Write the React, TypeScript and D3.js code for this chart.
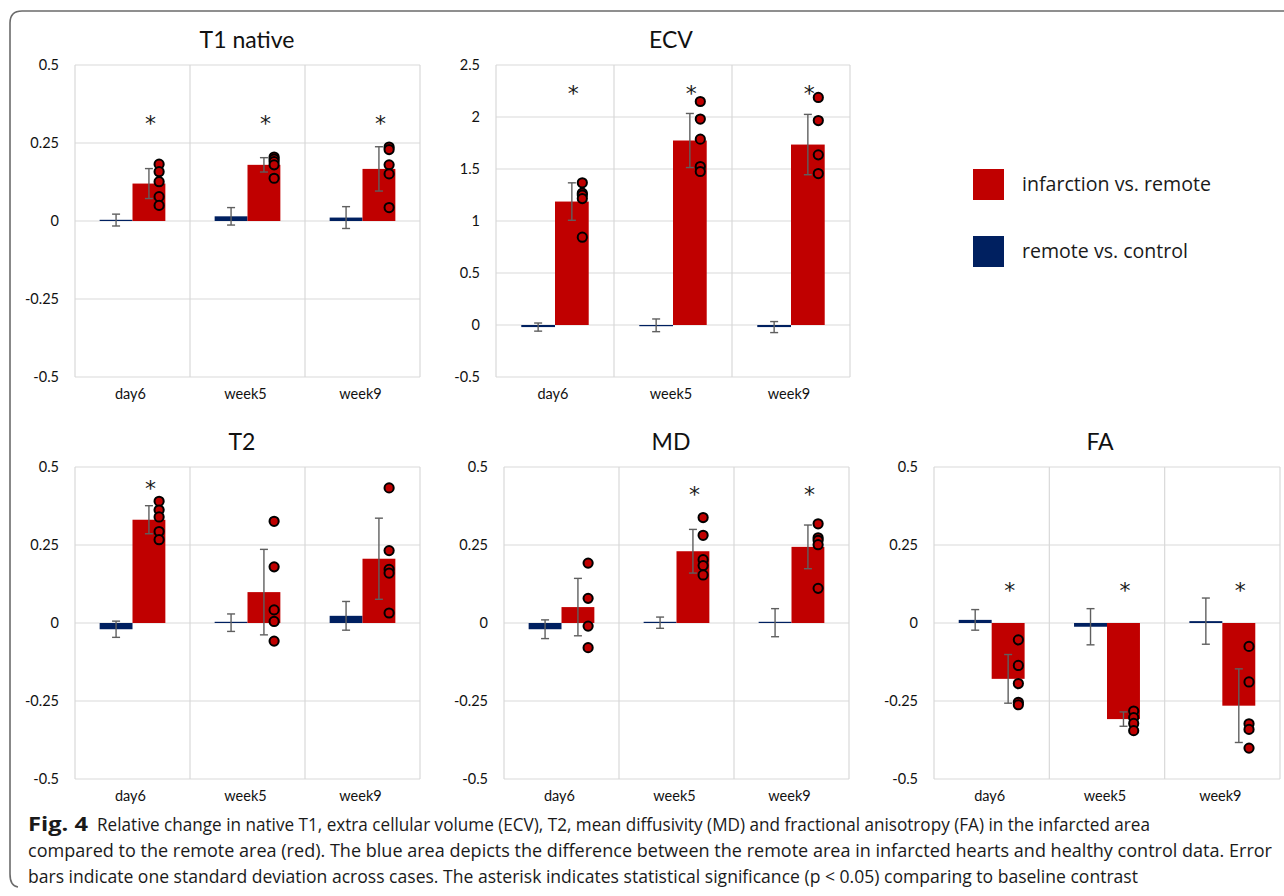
import React from "react";
import * as d3 from "d3";

// ---------- data ----------
const categories = ["day6", "week5", "week9"];
const seriesNames = ["infarction vs. remote", "remote vs. control"];

// T1 native
const t1Remote = [0.003, 0.015, 0.011];
const t1RemoteSd = [0.019, 0.028, 0.035];
const t1Infarct = [0.12, 0.18, 0.167];
const t1InfarctSd = [0.048, 0.023, 0.071];
const t1Dots = [
  [0.182, 0.158, 0.126, 0.078, 0.05],
  [0.205, 0.198, 0.19, 0.18, 0.137],
  [0.237, 0.229, 0.18, 0.151, 0.043],
];
const t1Sig = [true, true, true];

// ECV
const ecvRemote = [-0.02, -0.003, -0.02];
const ecvRemoteSd = [0.039, 0.061, 0.053];
const ecvInfarct = [1.187, 1.774, 1.735];
const ecvInfarctSd = [0.18, 0.26, 0.29];
const ecvDots = [
  [1.367, 1.268, 1.25, 1.216, 0.844],
  [2.149, 1.98, 1.787, 1.524, 1.476],
  [2.188, 1.966, 1.636, 1.456],
];
const ecvSig = [true, true, true];

// T2
const t2Remote = [-0.02, 0.001, 0.023];
const t2RemoteSd = [0.026, 0.028, 0.046];
const t2Infarct = [0.331, 0.099, 0.206];
const t2InfarctSd = [0.045, 0.137, 0.13];
const t2Dots = [
  [0.39, 0.362, 0.34, 0.293, 0.267],
  [0.326, 0.18, 0.042, 0.005, -0.058],
  [0.433, 0.232, 0.172, 0.16, 0.032],
];
const t2Sig = [true, false, false];

// MD
const mdRemote = [-0.02, 0.001, 0.001];
const mdRemoteSd = [0.03, 0.018, 0.045];
const mdInfarct = [0.051, 0.23, 0.244];
const mdInfarctSd = [0.092, 0.07, 0.07];
const mdDots = [
  [0.192, 0.079, -0.01, -0.079],
  [0.338, 0.281, 0.203, 0.184, 0.154],
  [0.318, 0.273, 0.265, 0.251, 0.111],
];
const mdSig = [false, true, true];

// FA
const faRemote = [0.01, -0.012, 0.006];
const faRemoteSd = [0.033, 0.058, 0.074];
const faInfarct = [-0.179, -0.308, -0.265];
const faInfarctSd = [0.078, 0.023, 0.118];
const faDots = [
  [-0.054, -0.136, -0.194, -0.254, -0.262],
  [-0.282, -0.303, -0.322, -0.345],
  [-0.075, -0.189, -0.323, -0.341, -0.401],
];
const faSig = [true, true, true];

const ticksHalf = [-0.5, -0.25, 0, 0.25, 0.5];
const ticksEcv = [-0.5, 0, 0.5, 1, 1.5, 2, 2.5];

const captionBold = "Fig. 4";
const captionLines = [
  "Relative change in native T1, extra cellular volume (ECV), T2, mean diffusivity (MD) and fractional anisotropy (FA) in the infarcted area",
  "compared to the remote area (red). The blue area depicts the difference between the remote area in infarcted hearts and healthy control data. Error",
  "bars indicate one standard deviation across cases. The asterisk indicates statistical significance (p < 0.05) comparing to baseline contrast",
];

// ---------- style ----------
const RED = "#C00000";
const BLUE = "#002060";
const GRID = "#d9d9d9";
const ERR = "#5f5f5f";
const CHART_FONT = "Lato, 'Open Sans', sans-serif";
const TEXT_FONT = "'Open Sans', 'Noto Sans', sans-serif";

type PanelProps = {
  title: string;
  titleX: number;
  titleY: number;
  x0: number;
  x1: number;
  y0: number;
  y1: number;
  domain: [number, number];
  ticks: number[];
  remote: number[];
  remoteSd: number[];
  infarct: number[];
  infarctSd: number[];
  dots: number[][];
  sig: boolean[];
  starLevel: number;
};

function Panel(p: PanelProps) {
  const y = d3.scaleLinear().domain(p.domain).range([p.y1, p.y0]);
  const x = d3.scaleBand<string>().domain(categories).range([p.x0, p.x1]).paddingInner(0).paddingOuter(0);
  const inner = d3
    .scaleBand<string>()
    .domain(["remote", "infarct"])
    .range([0, x.bandwidth()])
    .paddingInner(0)
    .paddingOuter(0.75);
  const bw = inner.bandwidth();
  const zero = y(0);
  const barRect = (v: number) => {
    const yy = y(v);
    const h = Math.max(Math.abs(yy - zero), 1.2);
    const top = v < 0 ? zero : zero - h;
    return { top, h };
  };
  const cap = 4;
  const errBar = (cx: number, m: number, sd: number, key: string) => (
    <g key={key} stroke={ERR} strokeWidth={1.4} fill="none">
      <line x1={cx} x2={cx} y1={y(m + sd)} y2={y(m - sd)} />
      <line x1={cx - cap} x2={cx + cap} y1={y(m + sd)} y2={y(m + sd)} />
      <line x1={cx - cap} x2={cx + cap} y1={y(m - sd)} y2={y(m - sd)} />
    </g>
  );
  return (
    <g>
      <text x={p.titleX} y={p.titleY} textAnchor="middle" fontFamily={CHART_FONT} fontSize={23} fill="#111">
        {p.title}
      </text>
      {p.ticks.map((t) => (
        <line key={"g" + t} x1={p.x0} x2={p.x1} y1={y(t)} y2={y(t)} stroke={GRID} strokeWidth={1.2} />
      ))}
      {categories.map((c) => (
        <line key={"v" + c} x1={x(c)!} x2={x(c)!} y1={p.y0} y2={p.y1} stroke={GRID} strokeWidth={1.2} />
      ))}
      <line x1={p.x1} x2={p.x1} y1={p.y0} y2={p.y1} stroke={GRID} strokeWidth={1.2} />
      {p.ticks.map((t) => (
        <text key={"t" + t} x={p.x0 - 16} y={y(t) + 5} textAnchor="end" fontFamily={CHART_FONT} fontSize={14.5} fill="#111">
          {String(t)}
        </text>
      ))}
      {categories.map((c) => (
        <text key={"c" + c} x={x(c)! + x.bandwidth() / 2 - 2} y={p.y1 + 22} textAnchor="middle" fontFamily={CHART_FONT} fontSize={14.5} fill="#111">
          {c}
        </text>
      ))}
      {categories.map((c, i) => {
        const r = barRect(p.remote[i]);
        const f = barRect(p.infarct[i]);
        return (
          <g key={"b" + c}>
            <rect x={x(c)! + inner("remote")!} y={r.top} width={bw} height={r.h} fill={BLUE} />
            <rect x={x(c)! + inner("infarct")!} y={f.top} width={bw} height={f.h} fill={RED} />
          </g>
        );
      })}
      {categories.map((c, i) => (
        <g key={"e" + c}>
          {errBar(x(c)! + inner("remote")! + bw / 2, p.remote[i], p.remoteSd[i], "er")}
          {errBar(x(c)! + inner("infarct")! + bw / 2, p.infarct[i], p.infarctSd[i], "ei")}
        </g>
      ))}
      {categories.map((c, i) =>
        p.dots[i].map((v, j) => (
          <circle
            key={"d" + c + j}
            cx={x(c)! + inner("infarct")! + bw / 2 + bw * 0.31}
            cy={y(v)}
            r={4.6}
            fill={RED}
            stroke="#000"
            strokeWidth={2}
          />
        ))
      )}
      {categories.map((c, i) =>
        p.sig[i] ? (
          <text
            key={"s" + c}
            x={x(c)! + inner("infarct")! + bw / 2 + 1.5}
            y={y(p.starLevel) + 13}
            textAnchor="middle"
            fontFamily="'DejaVu Sans', sans-serif"
            fontSize={22}
            fill="#1a1a1a"
          >
            *
          </text>
        ) : null
      )}
    </g>
  );
}

export default function App() {
  return (
    <svg
      width={1284}
      height={896}
      viewBox="0 0 1284 896"
      style={{ position: "absolute", left: 0, top: 0, background: "#fff" }}
    >
      <rect x={0} y={0} width={1284} height={896} fill="#fff" />
      <path d="M1284,11 L22,11 Q10,11 10,23 L10,874 Q10,886 18,887" fill="none" stroke="#6b6b6b" strokeWidth={1.6} />

      <Panel
        title="T1 native" titleX={247} titleY={48}
        x0={75} x1={420} y0={65} y1={377} domain={[-0.5, 0.5]} ticks={ticksHalf}
        remote={t1Remote} remoteSd={t1RemoteSd} infarct={t1Infarct} infarctSd={t1InfarctSd}
        dots={t1Dots} sig={t1Sig} starLevel={0.33}
      />
      <Panel
        title="ECV" titleX={671} titleY={48}
        x0={496} x1={850} y0={65} y1={377} domain={[-0.5, 2.5]} ticks={ticksEcv}
        remote={ecvRemote} remoteSd={ecvRemoteSd} infarct={ecvInfarct} infarctSd={ecvInfarctSd}
        dots={ecvDots} sig={ecvSig} starLevel={2.278}
      />
      <Panel
        title="T2" titleX={242} titleY={450}
        x0={75} x1={420} y0={467} y1={779} domain={[-0.5, 0.5]} ticks={ticksHalf}
        remote={t2Remote} remoteSd={t2RemoteSd} infarct={t2Infarct} infarctSd={t2InfarctSd}
        dots={t2Dots} sig={t2Sig} starLevel={0.449}
      />
      <Panel
        title="MD" titleX={671} titleY={450}
        x0={504} x1={849} y0={467} y1={779} domain={[-0.5, 0.5]} ticks={ticksHalf}
        remote={mdRemote} remoteSd={mdRemoteSd} infarct={mdInfarct} infarctSd={mdInfarctSd}
        dots={mdDots} sig={mdSig} starLevel={0.429}
      />
      <Panel
        title="FA" titleX={1100} titleY={450}
        x0={934} x1={1280} y0={467} y1={779} domain={[-0.5, 0.5]} ticks={ticksHalf}
        remote={faRemote} remoteSd={faRemoteSd} infarct={faInfarct} infarctSd={faInfarctSd}
        dots={faDots} sig={faSig} starLevel={0.123}
      />

      {seriesNames.map((s, i) => (
        <g key={s}>
          <rect x={973} y={169 + i * 67} width={31} height={31} fill={i === 0 ? RED : BLUE} />
          <text
            x={1022}
            y={191 + i * 67}
            fontFamily={TEXT_FONT}
            fontSize={20}
            fill="#1a1a1a"
            textLength={i === 0 ? 189 : 166}
            lengthAdjust="spacingAndGlyphs"
          >
            {s}
          </text>
        </g>
      ))}

      <text x={28} y={831} fontFamily={TEXT_FONT} fontSize={19} fontWeight="bold" fill="#1a1a1a" textLength={60} lengthAdjust="spacingAndGlyphs">
        {captionBold}
      </text>
      <text x={97} y={831} fontFamily={TEXT_FONT} fontSize={19} fill="#1a1a1a" textLength={1053} lengthAdjust="spacingAndGlyphs">
        {captionLines[0]}
      </text>
      <text x={28} y={857} fontFamily={TEXT_FONT} fontSize={19} fill="#1a1a1a" textLength={1244} lengthAdjust="spacingAndGlyphs">
        {captionLines[1]}
      </text>
      <text x={28} y={883} fontFamily={TEXT_FONT} fontSize={19} fill="#1a1a1a" textLength={1110} lengthAdjust="spacingAndGlyphs">
        {captionLines[2]}
      </text>
    </svg>
  );
}
